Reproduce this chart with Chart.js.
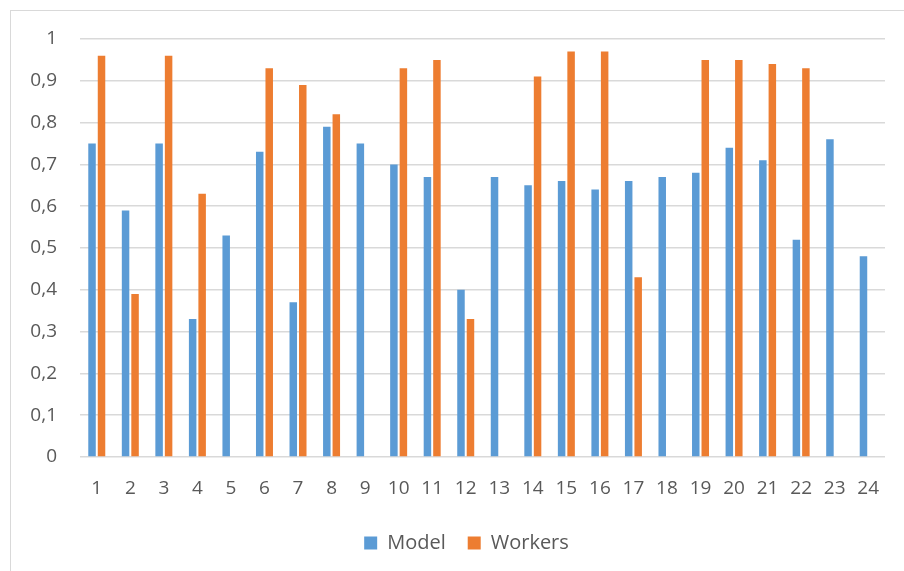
<!DOCTYPE html>
<html>
<head>
<meta charset="utf-8">
<script src="https://cdn.jsdelivr.net/npm/chart.js@4/dist/chart.umd.min.js"></script>
<style>
    html, body { margin: 0; padding: 0; background: #fff; overflow: hidden; }
    #frame { position: absolute; left: 10px; top: 10px; width: 1000px; height: 700px; border: 1px solid #d9d9d9; }
    #wrap { position: absolute; left: 0; top: 0; width: 904px; height: 571px; }
</style>
</head>
<body>
<div id="frame"></div>
<div id="wrap"><canvas id="chart-area"></canvas></div>
<script>
    // categories and series
    var categories = ['1', '2', '3', '4', '5', '6', '7', '8', '9', '10', '11', '12',
                      '13', '14', '15', '16', '17', '18', '19', '20', '21', '22', '23', '24'];
    var model = [0.75, 0.59, 0.75, 0.33, 0.53, 0.73, 0.37, 0.79, 0.75, 0.70, 0.67, 0.40,
                 0.67, 0.65, 0.66, 0.64, 0.66, 0.67, 0.68, 0.74, 0.71, 0.52, 0.76, 0.48];
    var workers = [0.96, 0.39, 0.96, 0.63, 0, 0.93, 0.89, 0.82, 0, 0.93, 0.95, 0.33,
                   0, 0.91, 0.97, 0.97, 0.43, 0, 0.95, 0.95, 0.94, 0.93, 0, 0];
    var yTicks = [0, 0.1, 0.2, 0.3, 0.4, 0.5, 0.6, 0.7, 0.8, 0.9, 1];

    var textColor = '#595959';
    var font = { family: "'Open Sans', sans-serif", size: 19 };
    var legendFont = { family: "'Open Sans', sans-serif", size: 20 };

    // push the legend right so it sits centred under the plot area
    var legendShift = {
        id: 'legendShift',
        afterLayout: function (chart) {
            var lg = chart.legend;
            if (!lg) return;
            lg.left += 48;
            lg.width -= 48;
        }
    };

    var config = {
        type: 'bar',
        data: {
            labels: categories,
            datasets: [{
                label: 'Model',
                data: model,
                backgroundColor: '#5b9bd5',
                categoryPercentage: 0.566,
                barPercentage: 0.79
            }, {
                label: 'Workers',
                data: workers,
                backgroundColor: '#ed7d31',
                categoryPercentage: 0.566,
                barPercentage: 0.79
            }]
        },
        options: {
            responsive: true,
            maintainAspectRatio: false,
            animation: false,
            layout: {
                padding: { left: 0, right: 19, top: 39, bottom: 8 }
            },
            plugins: {
                legend: {
                    position: 'bottom',
                    labels: {
                        color: textColor,
                        font: legendFont,
                        boxWidth: 13,
                        boxHeight: 13,
                        padding: 22
                    }
                },
                tooltip: { enabled: false }
            },
            scales: {
                x: {
                    grid: { display: false, drawTicks: false },
                    border: { display: false },
                    ticks: { color: textColor, font: font, padding: 20, maxRotation: 0 },
                    afterFit: function (scale) { scale.height = 54; }
                },
                y: {
                    min: 0,
                    max: 1,
                    afterBuildTicks: function (scale) {
                        scale.ticks = yTicks.map(function (v) { return { value: v }; });
                    },
                    grid: { color: '#d9d9d9', lineWidth: 1.5, drawTicks: false },
                    border: { display: false },
                    ticks: {
                        color: textColor,
                        font: font,
                        padding: 23,
                        callback: function (v) {
                            return String(Math.round(v * 10) / 10).replace('.', ',');
                        }
                    },
                    afterFit: function (scale) { scale.width = 80; }
                }
            }
        },
        plugins: [legendShift]
    };

    new Chart(document.getElementById('chart-area'), config);
</script>
</body>
</html>
